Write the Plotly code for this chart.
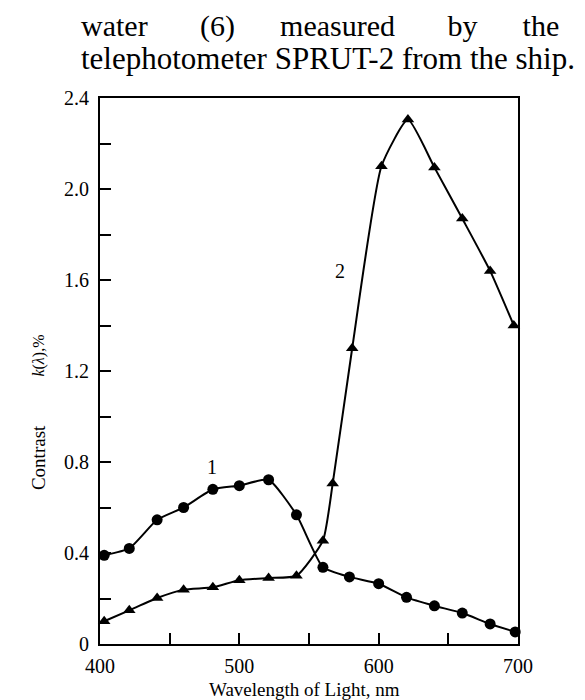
import plotly.graph_objects as go

# Curve 1 (circles)
wl1 = [403, 421, 441, 460, 481, 500, 521, 541, 560, 579, 600, 620, 640, 660, 680, 698]
k1 = [0.39, 0.42, 0.546, 0.60, 0.68, 0.696, 0.722, 0.568, 0.337, 0.295, 0.265, 0.205, 0.168, 0.136, 0.088, 0.053]
# Curve 2 (triangles)
wl2 = [403, 421, 441, 460, 481, 500, 521, 541, 560, 567, 581, 602, 621, 640, 660, 680, 697]
k2 = [0.10, 0.148, 0.202, 0.239, 0.249, 0.28, 0.29, 0.30, 0.454, 0.705, 1.30, 2.10, 2.305, 2.095, 1.87, 1.64, 1.40]

x_ticks = [400, 500, 600, 700]
x_tick_labels = ["400", "500", "600", "700"]
y_ticks = [0, 0.4, 0.8, 1.2, 1.6, 2.0, 2.4]
y_tick_labels = ["0", "0.4", "0.8", "1.2", "1.6", "2.0", "2.4"]

curve_labels = ["1", "2"]
curve_label_x = [480.6, 572.2]
curve_label_y = [0.78, 1.64]

NB = "\u00a0"
header_line1 = "water" + NB * 7 + "(6)" + NB * 6 + "measured" + NB * 7 + "by" + NB * 6 + "the"
header_line2 = "telephotometer SPRUT-2 from the ship."
x_title = "Wavelength of Light, nm"
y_title_a = "Contrast"
y_title_b = "<i>k</i>(<i>λ</i>),%"

SERIF = "Liberation Serif"

fig = go.Figure()
fig.add_trace(go.Scatter(
    x=wl1, y=k1, mode="lines+markers", line=dict(color="black", width=2, shape="spline", smoothing=0.5),
    marker=dict(symbol="circle", size=11, color="black"), cliponaxis=False, showlegend=False))
fig.add_trace(go.Scatter(
    x=wl2, y=k2, mode="lines+markers", line=dict(color="black", width=2, shape="spline", smoothing=0.5),
    marker=dict(symbol="triangle-up", size=11, color="black"), cliponaxis=False, showlegend=False))

for t, x, y in zip(curve_labels, curve_label_x, curve_label_y):
    fig.add_annotation(x=x, y=y, xref="x", yref="y", text=t, showarrow=False,
                       font=dict(family=SERIF, size=20, color="black"))

axis_common = dict(showline=True, linewidth=2, linecolor="black", mirror=True,
                   ticks="inside", ticklen=11, tickwidth=1.5, tickcolor="black",
                   showgrid=False, zeroline=False,
                   tickfont=dict(family=SERIF, size=20, color="black"))

fig.update_xaxes(range=[400, 700], tickvals=x_ticks, ticktext=x_tick_labels,
                 minor=dict(tick0=400, dtick=50, ticks="inside", ticklen=11, tickwidth=1.5, tickcolor="black"),
                 ticklabelstandoff=3, **axis_common)
fig.update_yaxes(range=[0, 2.4], tickvals=y_ticks, ticktext=y_tick_labels,
                 minor=dict(tick0=0, dtick=0.2, ticks="inside", ticklen=11, tickwidth=1.5, tickcolor="black"),
                 ticklabelstandoff=5, **axis_common)

# header text
fig.add_annotation(x=(70 - 91.5) / 418.5, y=(636 - 18) / 546, xref="paper", yref="paper",
                   xanchor="left", yanchor="middle", text=header_line1, showarrow=False,
                   font=dict(family=SERIF, size=30, color="black"))
fig.add_annotation(x=(70 - 91.5) / 418.5, y=(636 - 50) / 546, xref="paper", yref="paper",
                   xanchor="left", yanchor="middle", text=header_line2, showarrow=False,
                   font=dict(family=SERIF, size=31, color="black"))

# axis titles
fig.add_annotation(x=(296 - 91.5) / 418.5, y=(636 - 681) / 546, xref="paper", yref="paper",
                   xanchor="center", yanchor="middle", text=x_title, showarrow=False,
                   font=dict(family=SERIF, size=19, color="black"))
fig.add_annotation(x=(29.5 - 91.5) / 418.5, y=(636 - 450) / 546, xref="paper", yref="paper",
                   xanchor="center", yanchor="middle", text=y_title_a, showarrow=False, textangle=-90,
                   font=dict(family=SERIF, size=19, color="black"))
fig.add_annotation(x=(30 - 91.5) / 418.5, y=(636 - 348) / 546, xref="paper", yref="paper",
                   xanchor="center", yanchor="middle", text=y_title_b, showarrow=False, textangle=-90,
                   font=dict(family=SERIF, size=16, color="black"))

fig.update_layout(width=585, height=700, margin=dict(l=91.5, r=75, t=90, b=64),
                  plot_bgcolor="white", paper_bgcolor="white", showlegend=False)

fig.write_html("out.html")
